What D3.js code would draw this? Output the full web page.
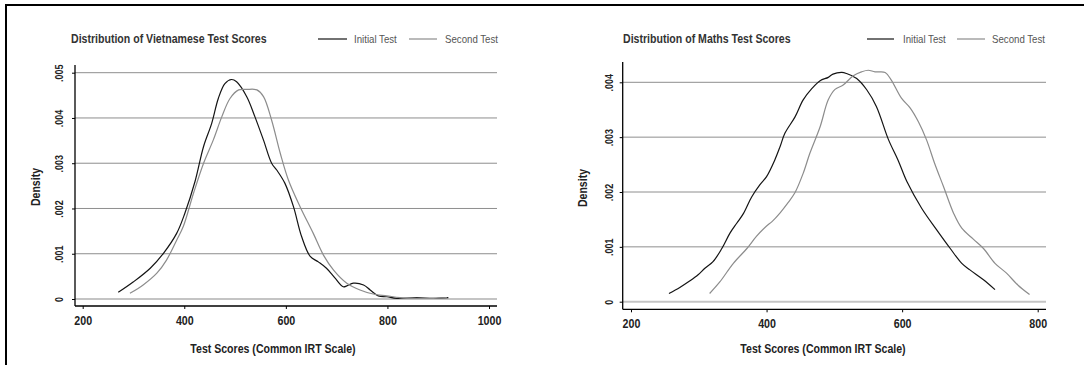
<!DOCTYPE html>
<html>
<head>
<meta charset="utf-8">
<script src="https://cdn.jsdelivr.net/npm/d3@7"></script>
<style>
  html, body { margin: 0; padding: 0; background: #fff; }
  svg { display: block; }
  text { font-family: "Liberation Sans Narrow", "Arial Narrow", "Liberation Sans", Arial, sans-serif; }
</style>
</head>
<body>
<svg id="chart" width="1084" height="365"></svg>
<script>
// Kernel density estimates of test scores (score, density)
const vietInitial = [
  [270,0.000147],[300,0.00038],[333,0.00068],[359,0.00101],[385,0.00145],[401,0.00189],
  [421,0.00259],[438,0.00337],[454,0.00388],[467,0.00443],[480,0.00476],[493,0.00485],
  [503,0.00480],[523,0.00447],[539,0.00403],[556,0.00351],[572,0.00300],[582,0.00285],
  [598,0.00256],[615,0.00204],[631,0.00138],[648,0.00094],[664,0.00082],[680,0.00068],
  [697,0.00046],[713,0.00027],[720,0.00029],[733,0.00035],[753,0.00031],[766,0.00020],
  [782,0.00007],[799,0.00005],[818,0.000015],[858,0.00003],[890,0.000015],[920,0.00003]
];
const vietSecond = [
  [293,0.000125],[319,0.00031],[346,0.00057],[365,0.00086],[385,0.00130],[398,0.00160],
  [418,0.00233],[438,0.00300],[457,0.00351],[474,0.00403],[490,0.00443],[507,0.00462],
  [523,0.00463],[543,0.00462],[556,0.00447],[572,0.00395],[589,0.00322],[605,0.00263],
  [628,0.00204],[654,0.00145],[674,0.00097],[694,0.00064],[720,0.00035],[746,0.00020],
  [772,0.00011],[799,0.00007],[825,0.00003],[858,0.000015],[890,0.000015],[917,0.00003]
];
const mathsInitial = [
  [256,0.00015],[272,0.00026],[287,0.00038],[299,0.00049],[309,0.00061],[321,0.00073],
  [334,0.00097],[346,0.00125],[356,0.00143],[366,0.00161],[378,0.00191],[390,0.00213],
  [400,0.00228],[412,0.00258],[420,0.00283],[427,0.00307],[442,0.00337],[454,0.00368],
  [467,0.00389],[479,0.00403],[491,0.00409],[498,0.00415],[511,0.00418],[518,0.00416],
  [533,0.00407],[548,0.00386],[562,0.00356],[580,0.00295],[594,0.00258],[607,0.00219],
  [629,0.00170],[651,0.00131],[671,0.00097],[688,0.00070],[700,0.00058],[720,0.00040],
  [737,0.00022]
];
const mathsSecond = [
  [316,0.00015],[331,0.00036],[351,0.00070],[371,0.00097],[385,0.00119],[400,0.00138],
  [408,0.00146],[420,0.00162],[432,0.00181],[442,0.00199],[454,0.00234],[464,0.00271],
  [479,0.00319],[491,0.00368],[501,0.00387],[513,0.00395],[528,0.00412],[540,0.00419],
  [550,0.00422],[560,0.00419],[575,0.00418],[584,0.00404],[599,0.00371],[612,0.00353],
  [624,0.00328],[636,0.00295],[648,0.00252],[661,0.00210],[676,0.00161],[688,0.00134],
  [705,0.00114],[720,0.00097],[737,0.00070],[754,0.00052],[771,0.00030],[788,0.00013]
];

const vietXTicks = [200, 400, 600, 800, 1000];
const vietYTicks = [0, 0.001, 0.002, 0.003, 0.004, 0.005];
const mathsXTicks = [200, 400, 600, 800];
const mathsYTicks = [0, 0.001, 0.002, 0.003, 0.004];

const seriesNames = ["Initial Test", "Second Test"];
const titles = ["Distribution of Vietnamese Test Scores", "Distribution of Maths Test Scores"];
const xTitle = "Test Scores (Common IRT Scale)";
const yTitle = "Density";

const svg = d3.select("#chart");
const lineColors = ["#141414", "#8c8c8c"];

// squeeze text horizontally to get a condensed typeface look
function condense(sel, k) {
  sel.each(function () {
    const w = this.getComputedTextLength();
    d3.select(this).attr("textLength", w * k).attr("lengthAdjust", "spacingAndGlyphs");
  });
  return sel;
}

// outer frame (top and left edges)
svg.append("line").attr("x1", 6).attr("x2", 1084).attr("y1", 5).attr("y2", 5)
  .attr("stroke", "#000").attr("stroke-width", 2);
svg.append("line").attr("x1", 6).attr("x2", 6).attr("y1", 4).attr("y2", 365)
  .attr("stroke", "#000").attr("stroke-width", 2);

const yFmt = v => v === 0 ? "0" : d3.format(".3f")(v).replace(/^0/, "");

function drawPanel(p) {
  const g = svg.append("g");
  const x = d3.scaleLinear().domain(p.xDomain).range(p.xRange);
  const y = d3.scaleLinear().domain(p.yDomain).range(p.yRange);

  // horizontal grid lines
  g.append("g").selectAll("line").data(p.yTicks).join("line")
    .attr("x1", p.axisX).attr("x2", p.gridEnd)
    .attr("y1", d => y(d)).attr("y2", d => y(d))
    .attr("stroke", d => d === 0 ? "#c4c4c4" : "#8e8e8e")
    .attr("stroke-width", d => d === 0 ? 2 : 1);

  // y axis
  const yAxis = d3.axisLeft(y).tickValues(p.yTicks).tickFormat(yFmt).tickSize(3).tickPadding(0);
  const ya = g.append("g").attr("transform", `translate(${p.axisX},0)`).call(yAxis);
  ya.select(".domain").remove();
  ya.append("line").attr("x1", 0).attr("x2", 0).attr("y1", p.axisTop).attr("y2", p.axisY)
    .attr("stroke", "#000").attr("stroke-width", 1.3);
  ya.selectAll(".tick line").attr("stroke", "#000");
  const yLabels = ya.selectAll(".tick text")
    .attr("x", null).attr("dy", null)
    .attr("transform", `translate(${p.yLabelX - p.axisX},0) rotate(-90)`)
    .attr("text-anchor", "middle")
    .attr("dy", "0.36em")
    .attr("font-size", 11.5).attr("font-weight", "bold").attr("fill", "#222");
  condense(yLabels, 0.78);

  // x axis
  const xAxis = d3.axisBottom(x).tickValues(p.xTicks).tickFormat(d3.format("d")).tickSize(3).tickPadding(6.5);
  const xa = g.append("g").attr("transform", `translate(0,${p.axisY})`).call(xAxis);
  xa.select(".domain").remove();
  xa.append("line").attr("x1", p.axisX).attr("x2", p.gridEnd).attr("y1", 0).attr("y2", 0)
    .attr("stroke", "#000").attr("stroke-width", 1.3);
  xa.selectAll(".tick line").attr("stroke", "#000");
  condense(xa.selectAll(".tick text").attr("font-size", 13).attr("font-weight", "bold").attr("fill", "#222"), 0.82);

  // density curves
  const line = d3.line().x(d => x(d[0])).y(d => y(d[1])).curve(d3.curveCatmullRom.alpha(0.5));
  p.series.forEach((s, i) => {
    g.append("path").datum(s).attr("d", line)
      .attr("fill", "none").attr("stroke", lineColors[i]).attr("stroke-width", 1.2);
  });

  // titles
  condense(g.append("text").attr("x", p.titleX).attr("y", 43).text(p.title)
    .attr("font-size", 12).attr("font-weight", "bold").attr("fill", "#333"), 0.88);
  condense(g.append("text").attr("x", p.xTitleX).attr("y", 353).attr("text-anchor", "middle").text(xTitle)
    .attr("font-size", 12).attr("font-weight", "bold").attr("fill", "#222"), 0.88);
  condense(g.append("text").attr("transform", `translate(${p.yTitleX},${p.yTitleY}) rotate(-90)`)
    .attr("text-anchor", "middle").text(yTitle)
    .attr("font-size", 12).attr("font-weight", "bold").attr("fill", "#222"), 0.88);

  // legend
  p.legend.forEach((L, i) => {
    g.append("line").attr("x1", L.x1).attr("x2", L.x2).attr("y1", 39).attr("y2", 39)
      .attr("stroke", lineColors[i]).attr("stroke-width", 1.2);
    condense(g.append("text").attr("x", L.tx).attr("y", 43).text(seriesNames[i])
      .attr("font-size", 11.5).attr("fill", "#555"), 0.84);
  });
}

drawPanel({
  xDomain: [200, 1000], xRange: [82.7, 489],
  yDomain: [0, 0.005], yRange: [299, 72.7],
  xTicks: vietXTicks, yTicks: vietYTicks,
  axisX: 75, axisY: 306, axisTop: 65, gridEnd: 497,
  yLabelX: 59, series: [vietInitial, vietSecond],
  title: titles[0], titleX: 71, xTitleX: 273, yTitleX: 40, yTitleY: 187,
  legend: [{x1: 318, x2: 347, tx: 354}, {x1: 409, x2: 437, tx: 445}]
});

drawPanel({
  xDomain: [200, 800], xRange: [631, 1037.7],
  yDomain: [0, 0.004], yRange: [301.7, 82.3],
  xTicks: mathsXTicks, yTicks: mathsYTicks,
  axisX: 622.7, axisY: 309.3, axisTop: 62, gridEnd: 1046,
  yLabelX: 608.5, series: [mathsInitial, mathsSecond],
  title: titles[1], titleX: 623, xTitleX: 823, yTitleX: 587, yTitleY: 188,
  legend: [{x1: 867, x2: 894, tx: 903}, {x1: 957, x2: 985, tx: 992}]
});
</script>
</body>
</html>
